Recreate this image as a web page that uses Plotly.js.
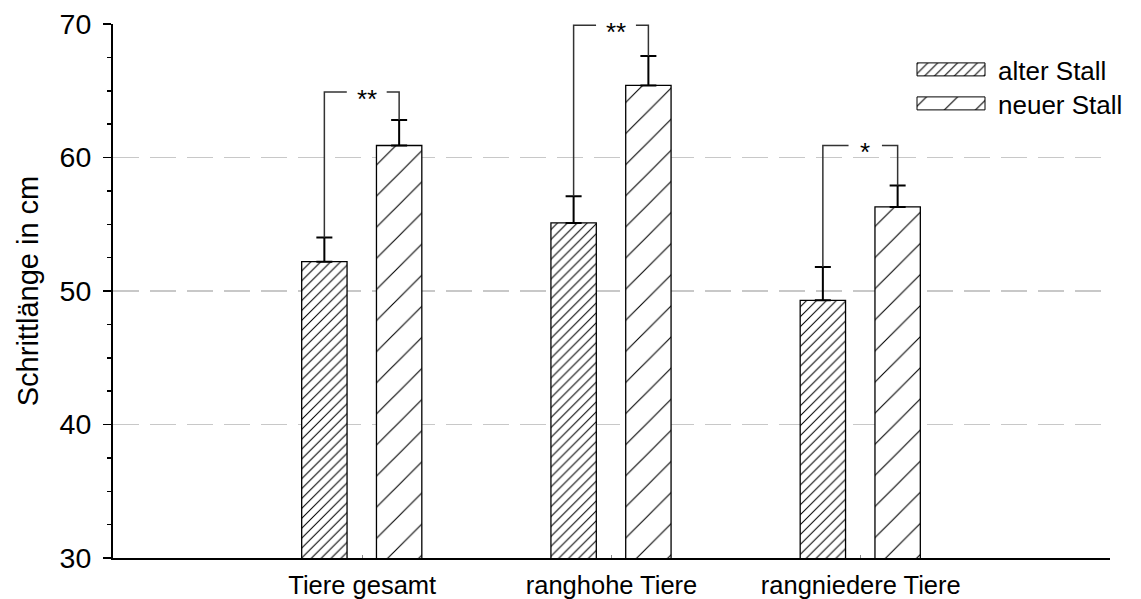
<!DOCTYPE html>
<html><head><meta charset="utf-8">
<script src="https://cdn.plot.ly/plotly-3.0.1.min.js"></script>
<style>html,body{margin:0;padding:0;background:#fff}#chart{width:1141px;height:599px}</style>
</head><body><div id="chart"></div>
<script>
const categories = ['Tiere gesamt', 'ranghohe Tiere', 'rangniedere Tiere'];
const seriesNames = ['alter Stall', 'neuer Stall'];
const alterStall = [52.2, 55.1, 49.3];
const neuerStall = [60.9, 65.4, 56.3];
const alterErr = [1.8, 2.0, 2.5];
const neuerErr = [1.9, 2.2, 1.6];
const bracketHeights = [64.9, 69.9, 60.9];
const significance = ['**', '**', '*'];
const yTicks = [30, 40, 50, 60, 70];

const FONT = 'Liberation Sans, Arial, sans-serif';
const pos = categories.map((c, i) => i + 1);
const BW = 0.182, OFF_A = -0.243, OFF_N = 0.057;

const traceA = {
  type: 'bar', name: seriesNames[0], x: pos, y: alterStall,
  width: BW, offset: OFF_A, legend: 'legend',
  marker: {color: '#ffffff', line: {color: '#000', width: 1.3},
           pattern: {shape: '/', size: 7, solidity: 0.15, fgcolor: '#000', bgcolor: '#fff', fillmode: 'replace'}},
  error_y: {type: 'data', symmetric: false, array: alterErr, arrayminus: alterErr.map(() => 0),
            width: 8, thickness: 2, color: '#000'}
};
const traceN = {
  type: 'bar', name: seriesNames[1], x: pos, y: neuerStall,
  width: BW, offset: OFF_N, legend: 'legend2',
  marker: {color: '#ffffff', line: {color: '#000', width: 1.3},
           pattern: {shape: '/', size: 22, solidity: 0.05, fgcolor: '#000', bgcolor: '#fff', fillmode: 'replace'}},
  error_y: {type: 'data', symmetric: false, array: neuerErr, arrayminus: neuerErr.map(() => 0),
            width: 8, thickness: 2, color: '#000'}
};

const shapes = [];
const annotations = [];
pos.forEach((p, i) => {
  const xa = p + OFF_A + BW / 2, xn = p + OFF_N + BW / 2;
  const ya = alterStall[i] + alterErr[i], yn = neuerStall[i] + neuerErr[i];
  const yb = bracketHeights[i];
  const g = (xa + xn) / 2 + 0.02;
  const half = significance[i].length > 1 ? 0.08 : 0.067;
  shapes.push({type: 'path', xref: 'x', yref: 'y',
    path: `M${xa},${ya} L${xa},${yb} L${g - half},${yb} M${g + half},${yb} L${xn},${yb} L${xn},${yn}`,
    line: {color: '#333', width: 1.5}});
  annotations.push({xref: 'x', yref: 'y', x: g, y: yb, text: significance[i], showarrow: false,
    xanchor: 'center', yanchor: 'middle', yshift: -7, font: {family: FONT, size: 26, color: '#000'}});
});

const legendBase = {xref: 'paper', yref: 'paper', xanchor: 'left', yanchor: 'top',
  bgcolor: 'rgba(0,0,0,0)', borderwidth: 0, itemwidth: 84, font: {family: FONT, size: 26, color: '#000'}};

const layout = {
  width: 1141, height: 599,
  margin: {l: 113, r: 31, t: 24, b: 41, pad: 0},
  paper_bgcolor: '#fff', plot_bgcolor: '#fff',
  font: {family: FONT, color: '#000'},
  showlegend: true,
  xaxis: {range: [0, 4], tickvals: pos, ticktext: categories, showgrid: false, zeroline: false,
          showline: true, linecolor: '#000', linewidth: 2, ticks: 'inside', ticklen: 3, tickcolor: '#888',
          ticklabelstandoff: 3,
          tickfont: {family: FONT, size: 25.5, color: '#000'}, fixedrange: true},
  yaxis: {range: [30, 70], tickvals: yTicks, showgrid: true, gridcolor: '#c8c8c8', gridwidth: 1.5,
          griddash: '26px,11px', zeroline: false, showline: true, linecolor: '#000', linewidth: 2,
          ticks: 'outside', ticklen: 8, tickwidth: 1.5, tickcolor: '#000', ticklabelstandoff: 6,
          minor: {dtick: 2.5, ticks: 'outside', ticklen: 4, tickwidth: 1.5, tickcolor: '#000', showgrid: false},
          tickfont: {family: FONT, size: 28.5, color: '#000'},
          title: {text: 'Schrittlänge in cm', font: {family: FONT, size: 29, color: '#000'}, standoff: 12},
          fixedrange: true},
  legend: Object.assign({}, legendBase, {x: (904 - 113) / 997, y: 1 - (46 - 24) / 534}),
  legend2: Object.assign({}, legendBase, {x: (904 - 113) / 997, y: 1 - (80 - 24) / 534}),
  shapes: shapes, annotations: annotations, bargap: 0
};

function fixLegend(gd) {
  const traces = gd.querySelectorAll('.barlayer .trace');
  const legends = [gd.querySelector('g.legend'), gd.querySelector('g.legend2')];
  legends.forEach((lg, i) => {
    if (!lg) return;
    lg.querySelectorAll('.legendpoints path').forEach(lp => {
      lp.setAttribute('d', 'M34,6.5H-34V-6.5H34Z');
      const barPath = traces[i] && traces[i].querySelector('path');
      if (barPath) lp.style.fill = barPath.style.fill;
      lp.style.stroke = '#000';
      lp.style.strokeWidth = '1px';
    });
  });
}

Plotly.newPlot('chart', [traceA, traceN], layout, {displayModeBar: false, staticPlot: true}).then(gd => {
  fixLegend(gd);
  setTimeout(() => fixLegend(gd), 50);
});
</script>
</body></html>
